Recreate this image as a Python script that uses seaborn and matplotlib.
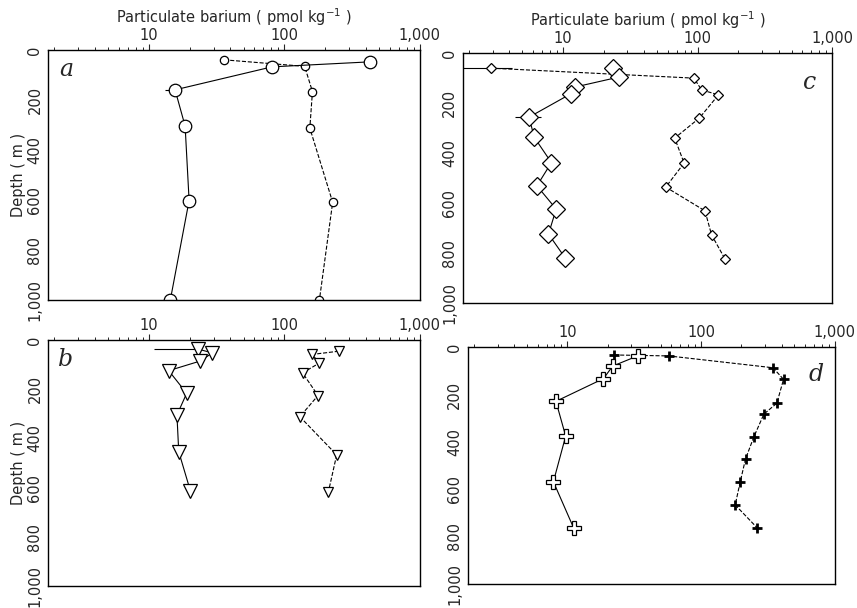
import numpy as np
import pandas as pd
import seaborn as sns
import matplotlib.pyplot as plt
from matplotlib.ticker import LogLocator, FuncFormatter, FixedLocator, NullFormatter

sns.set_style('ticks')
plt.rcParams['font.family'] = ['DejaVu Sans']

# Panel a: circles
a_solid_ba = [427, 81, 15.6, 18.5, 19.8, 14.4]
a_solid_depth = [48, 68, 160, 305, 603, 1000]
a_dash_ba = [36, 141, 161, 154, 227, 181]
a_dash_depth = [40, 66, 167, 313, 610, 1003]

# Panel b: triangles
b_solid_ba = [22.9, 29.4, 23.9, 14.0, 19.0, 16.1, 16.6, 20.2]
b_solid_depth = [37, 53, 86, 125, 217, 305, 454, 612]
b_dash_ba = [252, 161, 180, 136, 177, 130, 243, 211]
b_dash_depth = [46, 59, 95, 134, 226, 312, 467, 618]

# Panel c: diamonds
c_solid_ba = [23.7, 25.9, 12.2, 11.4, 5.6, 6.1, 8.2, 6.4, 8.9, 7.8, 10.4]
c_solid_depth = [61, 97, 137, 164, 257, 337, 439, 532, 625, 725, 821]
c_dash_ba = [2.9, 94, 107, 143, 103, 67.6, 79.4, 58, 113.5, 127, 160]
c_dash_depth = [61, 101, 148, 168, 261, 341, 441, 537, 632, 728, 825]

# Panel d: crosses
d_solid_ba = [33.5, 21.8, 18.6, 8.2, 9.7, 7.85, 11.1]
d_solid_depth = [37, 80, 133, 229, 376, 569, 763]
d_dash_ba = [22.4, 57.2, 345, 414, 369, 295, 248, 215, 196, 180, 262]
d_dash_depth = [33, 37, 87, 136, 237, 283, 380, 473, 571, 667, 763]

# horizontal error bars (value, depth, low, high)
err_a = [(15.6, 160, 13.2, 15.6)]
err_b = [(22.9, 37, 10.9, 22.9)]
err_c = [(2.9, 61, 1.8, 4.2), (5.6, 257, 4.4, 6.9)]

depth_ticks = [0, 200, 400, 600, 800, 1000]

fig = plt.figure(figsize=(8.57, 6.08), dpi=100)
ax_a = fig.add_axes([0.056, 0.507, 0.434, 0.411])
ax_c = fig.add_axes([0.540, 0.502, 0.431, 0.411])
ax_b = fig.add_axes([0.056, 0.036, 0.434, 0.405])
ax_d = fig.add_axes([0.546, 0.040, 0.428, 0.389])


def draw(ax, ba, depth, marker, ms, ls, mfc='white', mew=0.9):
    df = pd.DataFrame({'ba': ba, 'depth': depth})
    sns.lineplot(data=df, x='ba', y='depth', sort=False, estimator=None, ax=ax,
                 color='black', lw=0.8, linestyle=ls, marker=marker, markersize=ms,
                 markerfacecolor=mfc, markeredgecolor='black', markeredgewidth=mew,
                 legend=False)


def add_err(ax, errs):
    for v, d, lo, hi in errs:
        ax.errorbar([v], [d], xerr=[[v - lo], [hi - v]], fmt='none', ecolor='black',
                    elinewidth=0.8, capsize=0, zorder=1)


def style(ax, letter, lx, ly, title=False, ylabel=False):
    ax.set_xscale('log')
    ax.set_xlim(1.8, 1000)
    ax.set_ylim(1000, 0)
    ax.xaxis.tick_top()
    ax.xaxis.set_major_locator(FixedLocator([10, 100, 1000]))
    ax.xaxis.set_major_formatter(FuncFormatter(lambda x, p: f'{x:,.0f}'))
    ax.xaxis.set_minor_locator(LogLocator(base=10, subs=np.arange(2, 10)))
    ax.xaxis.set_minor_formatter(NullFormatter())
    ax.tick_params(axis='x', which='major', direction='out', length=4, width=0.8,
                   labelsize=10.5, pad=1)
    ax.tick_params(axis='x', which='minor', direction='out', length=2.5, width=0.7)
    ax.set_yticks(depth_ticks)
    ax.set_yticklabels([f'{d:,}' for d in depth_ticks], rotation=90, va='center')
    ax.tick_params(axis='y', length=0, labelsize=10.5, pad=4)
    for s in ax.spines.values():
        s.set_linewidth(1.0)
        s.set_color('black')
    ax.set_xlabel('')
    ax.set_ylabel('Depth ( m )' if ylabel else '', fontsize=10.5, labelpad=1)
    if title:
        ax.set_title('Particulate barium ( pmol kg$^{-1}$ )', fontsize=10.5, pad=3)
    ax.text(lx, ly, letter, transform=ax.transAxes, fontsize=17, style='italic',
            family='DejaVu Serif', ha='center', va='center')


add_err(ax_a, err_a)
draw(ax_a, a_dash_ba, a_dash_depth, 'o', 6, '--')
draw(ax_a, a_solid_ba, a_solid_depth, 'o', 9, '-')
style(ax_a, 'a', 0.05, 0.92, title=True, ylabel=True)

add_err(ax_b, err_b)
draw(ax_b, b_dash_ba, b_dash_depth, 'v', 6.5, '--')
draw(ax_b, b_solid_ba, b_solid_depth, 'v', 10, '-')
style(ax_b, 'b', 0.046, 0.92, ylabel=True)

add_err(ax_c, err_c)
draw(ax_c, c_dash_ba, c_dash_depth, 'D', 5.5, '--')
draw(ax_c, c_solid_ba, c_solid_depth, 'D', 9, '-')
style(ax_c, 'c', 0.94, 0.88, title=True)

draw(ax_d, d_dash_ba, d_dash_depth, '+', 7, '--', mew=2)
draw(ax_d, d_solid_ba, d_solid_depth, 'P', 10, '-')
style(ax_d, 'd', 0.95, 0.885)

fig.savefig('out.png', dpi=100)
